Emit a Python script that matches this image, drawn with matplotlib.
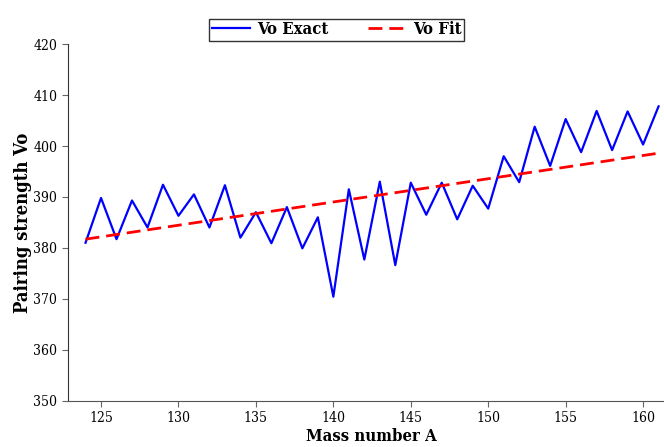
import matplotlib
matplotlib.use("Agg")
import matplotlib.pyplot as plt

plt.rcParams['font.family'] = ['DejaVu Serif']
plt.rcParams['font.stretch'] = 'condensed'

mass = list(range(124, 162))
vo_exact = [381.0, 389.8, 381.7, 389.3, 384.0, 392.4, 386.3, 390.5, 384.0, 392.3,
            382.0, 387.0, 380.9, 388.0, 379.9, 386.0, 370.4, 391.5, 377.7, 393.0,
            376.6, 392.8, 386.5, 392.8, 385.6, 392.2, 387.7, 398.0, 392.9, 403.8,
            396.1, 405.3, 398.8, 406.9, 399.2, 406.8, 400.3, 407.8]
fit_mass = [124, 161]
vo_fit = [381.7, 398.6]

fig = plt.figure(figsize=(6.64, 4.47), dpi=100)
ax = fig.add_axes([0.102, 0.104, 0.898, 0.797])

ax.plot(mass, vo_exact, color='blue', lw=1.6, label='Vo Exact')
ax.plot(fit_mass, vo_fit, color='red', lw=2.0, ls=(0, (5, 2.5)), label='Vo Fit')

ax.set_xlim(122.85, 161.35)
ax.set_ylim(350, 420)
ax.set_xticks([125, 130, 135, 140, 145, 150, 155, 160])
ax.set_yticks(range(350, 421, 10))
ax.spines['top'].set_visible(False)
ax.spines['right'].set_visible(False)
ax.spines['left'].set_color('#333333')
ax.spines['bottom'].set_color('#555555')
ax.tick_params(axis='both', labelsize=10, color='#666666', length=4)

ax.set_xlabel('Mass number A', fontsize=12, fontweight='bold')
ax.xaxis.set_label_coords(0.509, -0.077)
ax.set_ylabel('Pairing strength Vo', fontsize=13.2, fontweight='bold', labelpad=1)

leg = ax.legend(loc='lower center', bbox_to_anchor=(0.451, 1.01), ncol=2,
                frameon=True, fancybox=False, edgecolor='black',
                prop={'weight': 'bold', 'size': 12}, handlelength=2.3,
                columnspacing=2.4, borderpad=0.15, handletextpad=0.4,
                borderaxespad=0)
leg.get_frame().set_linewidth(1.0)

fig.savefig('out.png', dpi=100)
